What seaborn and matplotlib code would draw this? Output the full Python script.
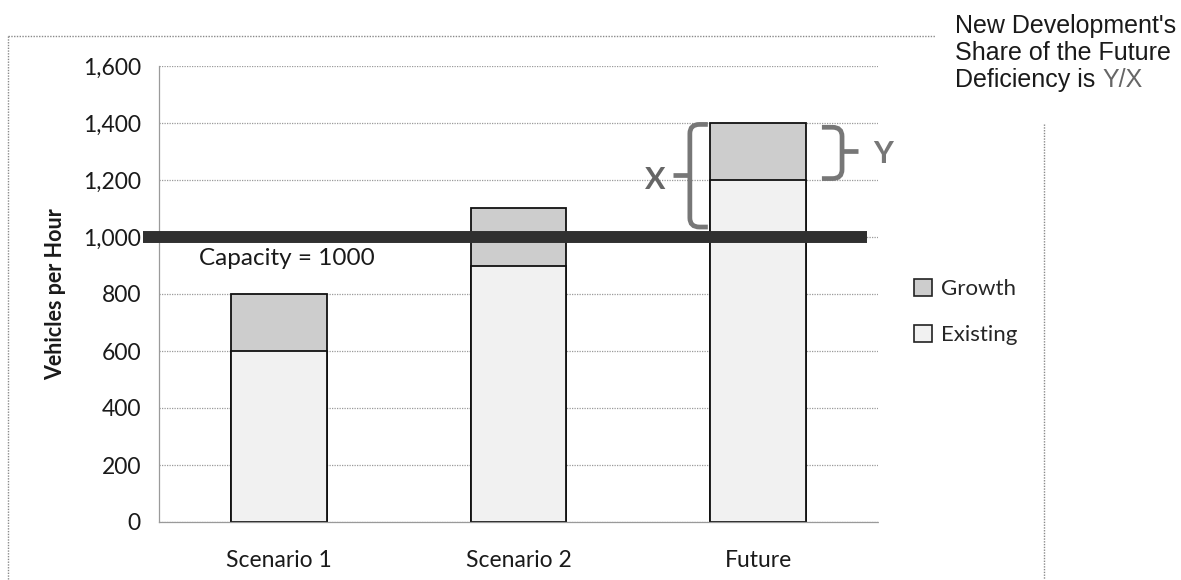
import matplotlib
matplotlib.use("Agg")
import matplotlib.pyplot as plt
import seaborn as sns
import pandas as pd
from matplotlib.lines import Line2D
from matplotlib.patches import Patch
from matplotlib.path import Path
from matplotlib.patches import PathPatch

# ---- data ----
categories = ["Scenario 1", "Scenario 2", "Future"]
existing = [600, 900, 1200]
growth = [200, 200, 200]
capacity = 1000
yticks = [0, 200, 400, 600, 800, 1000, 1200, 1400, 1600]
ytick_labels = ["0", "200", "400", "600", "800", "1,000", "1,200", "1,400", "1,600"]
legend_labels = ["Growth", "Existing"]
note_lines = ["New Development's", "Share of the Future", "Deficiency is "]
note_highlight = "Y/X"

growth_color = "#cdcdcd"
existing_color = "#f1f1f1"
grid_color = "#9a9a9a"
brace_color = "#777777"

sns.set_theme(style="white")
plt.rcParams['font.family'] = ['Lato', 'DejaVu Sans']

fig = plt.figure(figsize=(11.81, 5.8), dpi=100)
ax = fig.add_axes([159 / 1181, 0.1, 719 / 1181, 456 / 580])

total = [e + g for e, g in zip(existing, growth)]
df = pd.DataFrame({"cat": categories, "existing": existing, "total": total})

sns.barplot(data=df, x="cat", y="total", color=growth_color, saturation=1,
            edgecolor="#111111", linewidth=1.3, width=0.4, ax=ax, zorder=2)
sns.barplot(data=df, x="cat", y="existing", color=existing_color, saturation=1,
            edgecolor="#111111", linewidth=1.3, width=0.4, ax=ax, zorder=2)

ax.set_xlim(-0.5, 2.5)
ax.set_ylim(0, 1600)
ax.set_yticks(yticks)
ax.set_yticklabels(ytick_labels, fontsize=16.5, color="#1a1a1a")
ax.tick_params(axis="y", length=7, color=grid_color, width=0.8, pad=6)
ax.tick_params(axis="x", length=0, pad=20, labelsize=16.5, labelcolor="#1a1a1a")
ax.set_xticks([-0.5, 0.5, 1.5, 2.5], minor=True)
ax.tick_params(axis="x", which="minor", length=6, color=grid_color, width=0.8, direction="out")
ax.set_xlabel("")
ax.set_ylabel("Vehicles per Hour", fontsize=15.5, fontweight="bold", color="#1a1a1a", labelpad=12)
ax.set_axisbelow(True)
ax.yaxis.grid(True, linestyle=(0, (1, 1)), color=grid_color, linewidth=0.9)
ax.xaxis.grid(False)
for s in ["top", "right"]:
    ax.spines[s].set_visible(False)
for s in ["left", "bottom"]:
    ax.spines[s].set_linestyle((0, (1, 1)))
    ax.spines[s].set_color(grid_color)
    ax.spines[s].set_linewidth(0.9)

# capacity line
ax.plot([-0.565, 2.455], [capacity, capacity], color="#303030", lw=8.6,
        solid_capstyle="butt", clip_on=False, zorder=4)
ax.text(-0.335, 926, f"Capacity = {capacity}", fontsize=17.5, color="#1a1a1a",
        va="center", ha="left", zorder=5)

# braces
def brace(x_v, x_h, x_t, y0, y1, ym, rx, ry):
    verts = [(x_h, y1), (x_v + rx, y1), (x_v, y1), (x_v, y1 - ry),
             (x_v, y0 + ry), (x_v, y0), (x_v + rx, y0), (x_h, y0)]
    codes = [Path.MOVETO, Path.LINETO, Path.CURVE3, Path.CURVE3,
             Path.LINETO, Path.CURVE3, Path.CURVE3, Path.LINETO]
    p = PathPatch(Path(verts, codes), fill=False, edgecolor=brace_color, lw=3.4,
                  clip_on=False, zorder=5, capstyle="butt")
    ax.add_patch(p)
    ax.plot([x_v, x_t], [ym, ym], color=brace_color, lw=3.4, clip_on=False,
            zorder=5, solid_capstyle="butt")

top_future = total[2]
brace(1.715, 1.79, 1.644, capacity + 35, top_future - 5, 1218, 0.04, 32)
brace(2.35, 2.266, 2.416, existing[2] + 5, top_future - 15, 1300, -0.04, 32)

ax.text(1.57, 1200, "X", fontsize=22, fontweight="bold", color="#666666",
        ha="center", va="center", zorder=5)
ax.text(2.52, 1290, "Y", fontsize=22, fontweight="bold", color="#777777",
        ha="center", va="center", clip_on=False, zorder=5)

# legend
handles = [Patch(facecolor=growth_color, edgecolor="#222222", linewidth=1.2),
           Patch(facecolor=existing_color, edgecolor="#222222", linewidth=1.2)]
fig.legend(handles, legend_labels, loc="upper left",
           bbox_to_anchor=(914 / 1181, 1 - 279 / 580), frameon=False,
           fontsize=16, handlelength=0.8, handleheight=0.8, handletextpad=0.4,
           labelspacing=1.15, borderaxespad=0, borderpad=0)

# annotation text top right
note_kw = dict(fontsize=18, family="Liberation Sans", va="baseline", ha="left")
baselines = [33, 60, 87]
for line, yb in zip(note_lines, baselines):
    t_last = fig.text(955 / 1181, 1 - yb / 580, line, color="#1a1a1a", **note_kw)
fig.canvas.draw()
bb = t_last.get_window_extent()
fig.text(bb.x1 / fig.bbox.width, 1 - baselines[-1] / 580, note_highlight,
         color="#666666", **note_kw)

# outer dotted frame
fc = "#8a8a8a"
def fline(xs, ys):
    fig.add_artist(Line2D([x / 1181 for x in xs], [1 - y / 580 for y in ys],
                          transform=fig.transFigure, color=fc, lw=1.0,
                          linestyle=(0, (1, 1))))
fline([8, 935], [36, 36])
fline([8, 8], [36, 580])
fline([1044, 1044], [124, 580])

fig.savefig("out.png", dpi=100)
